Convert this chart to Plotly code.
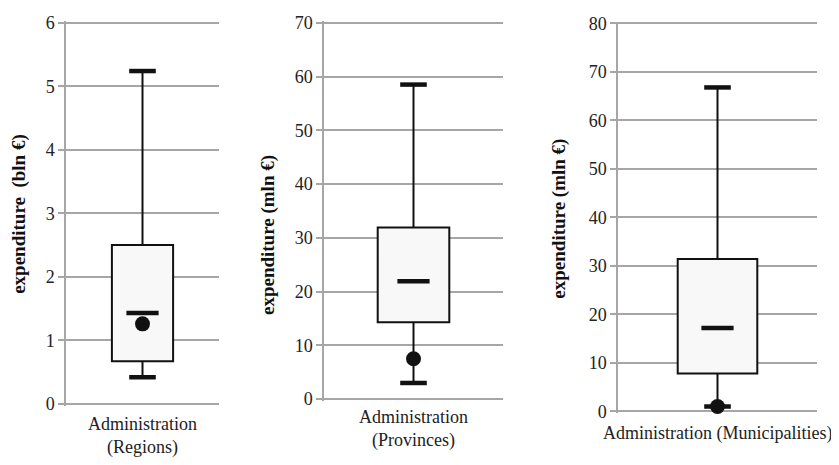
import plotly.graph_objects as go

# ---- data ----
categories = ["Administration<br>(Regions)", "Administration<br>(Provinces)", "Administration (Municipalities)"]
y_titles = ["expenditure  (bln €)", "expenditure (mln €)", "expenditure (mln €)"]
whisker_low = [0.42, 3.0, 1.0]
q1 = [0.67, 14.3, 7.8]
median = [1.43, 21.9, 17.2]
q3 = [2.5, 31.9, 31.4]
whisker_high = [5.24, 58.5, 66.8]
mean = [1.26, 7.5, 1.0]
y_max = [6, 70, 80]
y_step = [1, 10, 10]

# ---- layout geometry (reference-page pixels) ----
OFF = 8                      # page body margin
W, H = 839 - OFF, 465 - OFF  # figure size
panels = [
    dict(x0=66, x1=219, ytop=15, ybot=410, title_x=19, title_y=213, lab_y=443),
    dict(x0=324, x1=503, ytop=15, ybot=405, title_x=268, title_y=235, lab_y=436),
    dict(x0=618, x1=817, ytop=15.7, ybot=417.7, title_x=559, title_y=218, lab_y=441),
]

def px(x):
    return (x - OFF) / W

def py(y):
    return 1 - (y - OFF) / H

SERIF = "Liberation Serif, Times New Roman, serif"
GRID = "#a6a6a6"
INK = "#111111"
PAD = 2  # px of padding so edge gridlines are drawn

fig = go.Figure()
layout = dict(
    width=W, height=H,
    margin=dict(l=0, r=0, t=0, b=0),
    paper_bgcolor="white", plot_bgcolor="white",
    showlegend=False,
    font=dict(family=SERIF, size=18, color="#222"),
    annotations=[],
)

for i, p in enumerate(panels):
    n = "" if i == 0 else str(i + 1)
    xa, ya = "x" + n, "y" + n
    cat = categories[i]

    fig.add_trace(go.Bar(
        x=[cat], y=[q3[i] - q1[i]], base=[q1[i]], width=0.4,
        marker=dict(color="#f8f8f8", line=dict(color=INK, width=2)),
        xaxis=xa, yaxis=ya, hoverinfo="skip",
    ))
    fig.add_trace(go.Scatter(
        x=[cat, cat, None, cat, cat],
        y=[q3[i], whisker_high[i], None, whisker_low[i], q1[i]],
        mode="lines", line=dict(color=INK, width=2),
        xaxis=xa, yaxis=ya, hoverinfo="skip", cliponaxis=False,
    ))
    fig.add_trace(go.Scatter(
        x=[cat, cat], y=[whisker_low[i], whisker_high[i]], mode="markers",
        marker=dict(symbol="line-ew", size=19, line=dict(color=INK, width=4.5)),
        xaxis=xa, yaxis=ya, hoverinfo="skip", cliponaxis=False,
    ))
    fig.add_trace(go.Scatter(
        x=[cat], y=[median[i]], mode="markers",
        marker=dict(symbol="line-ew", size=23, line=dict(color=INK, width=4.5)),
        xaxis=xa, yaxis=ya, hoverinfo="skip", cliponaxis=False,
    ))
    fig.add_trace(go.Scatter(
        x=[cat], y=[mean[i]], mode="markers",
        marker=dict(symbol="circle", size=15, color=INK),
        xaxis=xa, yaxis=ya, hoverinfo="skip", cliponaxis=False,
    ))

    unit = y_max[i] / (p["ybot"] - p["ytop"])
    layout["xaxis" + n] = dict(
        domain=[px(p["x0"]), px(p["x1"])], anchor=ya,
        type="category", range=[-0.5, 0.5],
        showgrid=False, showline=False, showticklabels=False, ticks="", zeroline=False,
    )
    layout["yaxis" + n] = dict(
        domain=[py(p["ybot"] + PAD), py(p["ytop"] - PAD)], anchor=xa,
        range=[-PAD * unit, y_max[i] + PAD * unit], dtick=y_step[i], tick0=0,
        showgrid=True, gridcolor=GRID, gridwidth=1.5,
        zeroline=False, showline=True, linecolor=GRID, linewidth=1.5,
        ticks="outside", ticklen=6, tickcolor=GRID, tickwidth=1.5,
        ticklabeloverflow="allow",
        tickfont=dict(family=SERIF, size=18, color="#222"),
    )
    layout["annotations"].append(dict(
        text="<b>" + y_titles[i] + "</b>", textangle=-90,
        x=px(p["title_x"]), y=py(p["title_y"]), xref="paper", yref="paper",
        xanchor="center", yanchor="middle", showarrow=False, borderpad=0,
        font=dict(family=SERIF, size=19, color=INK),
    ))
    layout["annotations"].append(dict(
        text=cat, x=px((p["x0"] + p["x1"]) / 2), y=py(p["lab_y"]),
        xref="paper", yref="paper", xanchor="center", yanchor="middle",
        showarrow=False, font=dict(family=SERIF, size=18, color="#222"),
    ))

fig.update_layout(**layout)
fig.write_html("out.html")
